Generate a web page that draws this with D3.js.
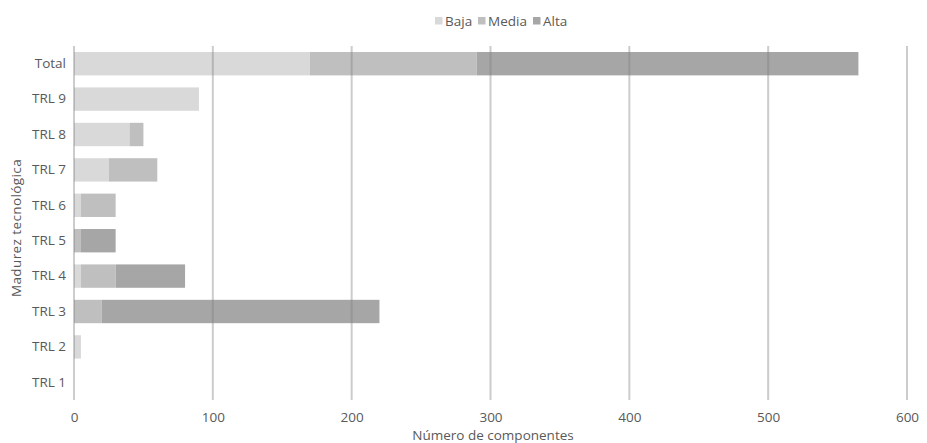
<!DOCTYPE html>
<html><head><meta charset="utf-8">
<script src="https://cdn.jsdelivr.net/npm/d3@7"></script>
<style>body{margin:0;background:#fff}</style>
</head><body>
<svg id="c" width="927" height="443"></svg>
<script>
const categories = ["Total","TRL 9","TRL 8","TRL 7","TRL 6","TRL 5","TRL 4","TRL 3","TRL 2","TRL 1"];
const seriesNames = ["Baja","Media","Alta"];
const baja  = [170, 90, 40, 25, 5, 0, 5, 0, 5, 0];
const media = [120, 0, 10, 35, 25, 5, 25, 20, 0, 0];
const alta  = [275, 0, 0, 0, 0, 25, 50, 200, 0, 0];
const xTicks = [0,100,200,300,400,500,600];
const colors = ["#d9d9d9","#bfbfbf","#a6a6a6"];

const font = "'Open Sans', sans-serif";
const fs = 13.5;
const txt = "#595959";
const svg = d3.select("#c");
const x = d3.scaleLinear().domain([0,600]).range([74,907]);
const y = d3.scaleBand().domain(categories).range([46,400]).paddingInner(0.34).paddingOuter(0.17);

const rows = categories.map((c,i)=>({cat:c, Baja:baja[i], Media:media[i], Alta:alta[i]}));
const stack = d3.stack().keys(seriesNames)(rows);
const color = d3.scaleOrdinal().domain(seriesNames).range(colors);

svg.append("g").selectAll("g").data(stack).join("g")
  .attr("fill", d=>color(d.key))
  .selectAll("rect").data(d=>d).join("rect")
  .attr("x", d=>x(d[0]))
  .attr("y", d=>y(d.data.cat))
  .attr("width", d=>Math.max(0, x(d[1])-x(d[0])))
  .attr("height", y.bandwidth());

// gridlines (drawn over bars, semi-transparent)
svg.append("g").selectAll("line").data(xTicks).join("line")
  .attr("x1", d=>x(d)).attr("x2", d=>x(d))
  .attr("y1", 46).attr("y2", 400)
  .attr("stroke", "#808080").attr("stroke-opacity", 0.4).attr("stroke-width", 2);

const xAxis = d3.axisBottom(x).tickValues(xTicks).tickSize(0).tickPadding(0).tickFormat(d3.format("d"));
const gx = svg.append("g").attr("transform","translate(0,422)").call(xAxis);
gx.select(".domain").remove();
gx.selectAll("text").attr("font-family", font).attr("font-size", fs).attr("fill", txt).attr("y",0).attr("dy","0");

const yAxis = d3.axisLeft(y).tickSize(0).tickPadding(8);
const gy = svg.append("g").attr("transform","translate(74,0)").call(yAxis);
gy.select(".domain").remove();
gy.selectAll("text").attr("font-family", font).attr("font-size", fs).attr("fill", txt);

svg.append("text").attr("x", 493).attr("y", 440)
  .attr("text-anchor","middle").attr("font-family", font).attr("font-size", fs).attr("fill", txt)
  .text("Número de componentes");
svg.append("text").attr("transform","translate(16,228) rotate(-90)").attr("dy","0.35em")
  .attr("text-anchor","middle").attr("font-family", font).attr("font-size", fs).attr("fill", txt)
  .attr("letter-spacing", 0.4)
  .text("Madurez tecnológica");

// legend
const legX = [435, 478, 533];
const leg = svg.append("g");
seriesNames.forEach((s,i)=>{
  leg.append("rect").attr("x", legX[i]).attr("y", 17).attr("width", 7.5).attr("height", 7.5).attr("fill", colors[i]);
  leg.append("text").attr("x", legX[i]+10).attr("y", 21).attr("dy","0.35em")
    .attr("font-family", font).attr("font-size", fs).attr("fill", txt).text(s);
});
</script>
</body></html>
